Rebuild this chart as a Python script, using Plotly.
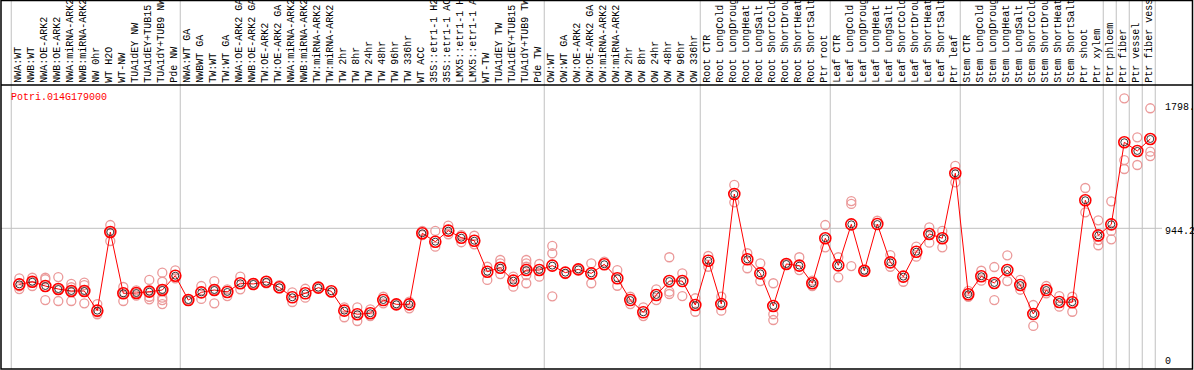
import plotly.graph_objects as go

labels = [
    "NWA:WT", "NWB:WT", "NWA:OE-ARK2", "NWB:OE-ARK2", "NWA:miRNA-ARK2", "NWB:miRNA-ARK2",
    "NW 0hr", "WT H2O", "WT-NW", "TUA1dEY NW", "TUA1dEY+TUB15", "TUA1dY+TUB9 NW", "Pde NW",
    "NWA:WT GA", "NWBWT GA", "TW:WT", "TW:WT GA", "NWA:OE-ARK2 GA", "NWB:OE-ARK2 GA",
    "TW:OE-ARK2", "TW:OE-ARK2 GA", "NWA:miRNA-ARK2", "NWB:miRNA-ARK2", "TW:miRNA-ARK2",
    "TW:miRNA-ARK2", "TW 2hr", "TW 8hr", "TW 24hr", "TW 48hr", "TW 96hr", "TW 336hr",
    "WT ACC", "35S::etr1-1 H2", "35S::etr1-1 AC", "LMX5::etr1-1 H", "LMX5::etr1-1 A",
    "WT-TW", "TUA1dEY TW", "TUA1dEY+TUB15", "TUA1dY+TUB9 TW", "Pde TW",
    "OW:WT", "OW:WT GA", "OW:OE-ARK2", "OW:OE-ARK2 GA", "OW:miRNA-ARK2", "OW:miRNA-ARK2",
    "OW 2hr", "OW 8hr", "OW 24hr", "OW 48hr", "OW 96hr", "OW 336hr",
    "Root CTR", "Root LongCold", "Root LongDroug", "Root LongHeat", "Root LongSalt",
    "Root ShortCold", "Root ShortDrou", "Root ShortHeat", "Root ShortSalt", "Ptr root",
    "Leaf CTR", "Leaf LongCold", "Leaf LongDroug", "Leaf LongHeat", "Leaf LongSalt",
    "Leaf ShortCold", "Leaf ShortDrou", "Leaf ShortHeat", "Leaf ShortSalt", "Ptr leaf",
    "Stem CTR", "Stem LongCold", "Stem LongDroug", "Stem LongHeat", "Stem LongSalt",
    "Stem ShortCold", "Stem ShortDrou", "Stem ShortHeat", "Stem ShortSalt", "Ptr shoot",
    "Ptr xylem", "Ptr phloem", "Ptr fiber", "Ptr vessel", "Ptr fiber vess",
]

means = [
    537, 556, 525, 503, 489, 489, 346, 917, 472, 474, 484, 496, 600,
    423, 479, 496, 482, 545, 540, 556, 516, 443, 472, 513, 487, 346, 320, 327, 423,
    392, 392, 908, 847, 927, 876, 854, 629, 658, 564, 641, 641,
    673, 622, 646, 617, 683, 581, 423, 334, 460, 561, 561, 387,
    709, 394, 1193, 719, 617, 380, 685, 673, 545, 872,
    675, 973, 636, 975, 697, 593, 774, 903, 872, 1344,
    465, 596, 547, 641, 532, 322, 496, 409, 407, 1148, 893,
    973, 1569, 1506, 1593,
]

replicates = [
    [581, 522, 503], [585, 556, 525], [585, 574, 423], [590, 503, 416], [540, 516, 489, 416],
    [549, 532, 489, 399], [394, 334, 320], [968, 917, 852], [518, 472, 416], [494, 474, 455],
    [569, 484, 447, 428], [622, 556, 496, 440, 423, 394], [639, 581],
    [423, 423], [525, 431], [561, 496, 399], [501, 452], [593, 501], [540, 540], [561, 545],
    [532, 508], [479, 409], [505, 440], [513], [476], [370, 298], [370, 271], [356, 307],
    [447, 399], [392], [363, 411], [925, 895], [925, 811], [963, 901], [895, 843], [890, 828],
    [665, 569], [714, 690, 612], [593, 520], [714, 690, 665, 605, 545], [685, 593],
    [816, 763, 450], [612], [646], [690, 545], [702], [641, 527], [447, 394], [370, 307],
    [501, 423], [734, 484, 467], [617, 452], [436, 338],
    [743, 665], [447, 346], [1259, 1133], [763, 654], [690, 561], [545, 320, 278], [685],
    [734, 641], [564, 525], [968, 806],
    [734, 588], [1142, 1121, 670], [641], [999], [750, 665], [556], [811, 738], [951, 840],
    [925, 806], [1397, 1278],
    [489, 447], [636, 564], [663, 423], [748, 561], [569, 498], [387, 235], [525, 472],
    [452, 375], [447, 338], [1237, 1060], [1002, 859, 821],
    [1140, 925, 864], [1888, 1440, 1375], [1605, 1404], [1816, 1501, 1469],
]

group_starts = [0, 13, 41, 53, 63, 73, 84, 85, 86, 87, 88]
gene = "Potri.014G179000"
axis_labels = ["1798.", "944.2", "0"]

W, H = 1194, 370
PX_PER_CAT = 13.0
X0_PX = 19.3
Y0_PX = 358.3
PX_PER_UNIT = 130.0 / 944.2
FONT = "Liberation Mono"

xmin = -X0_PX / PX_PER_CAT
xmax = xmin + W / PX_PER_CAT
ymin = (Y0_PX - H) / PX_PER_UNIT
ymax = Y0_PX / PX_PER_UNIT

def py(p):
    return 1 - p / H

xs = list(range(len(labels)))
rx, ry = [], []
for i, reps in enumerate(replicates):
    for v in reps:
        rx.append(i)
        ry.append(v)

fig = go.Figure()
fig.add_trace(go.Scatter(
    x=rx, y=ry, mode="markers",
    marker=dict(symbol="circle-open", size=9, color="#eb9999", line=dict(width=1.3)),
    hoverinfo="skip", showlegend=False,
))
fig.add_trace(go.Scatter(
    x=xs, y=means, mode="lines+markers",
    line=dict(color="#ff0000", width=1),
    marker=dict(symbol="circle-open", size=11, color="#ff0000", line=dict(width=1.6)),
    showlegend=False,
))
fig.add_trace(go.Scatter(
    x=xs, y=means, mode="markers",
    marker=dict(symbol="circle-open", size=7, color="#222222", line=dict(width=0.9)),
    hoverinfo="skip", showlegend=False,
))

shapes = []
for s in group_starts:
    xv = s - 0.62
    shapes.append(dict(type="line", xref="x", yref="paper", x0=xv, x1=xv, y0=py(369), y1=py(0),
                       line=dict(color="#c0c0c0", width=1), layer="below"))
shapes.append(dict(type="line", xref="paper", yref="y", x0=1 / W, x1=1162 / W, y0=944.2, y1=944.2,
                   line=dict(color="#c0c0c0", width=1), layer="below"))
shapes.append(dict(type="rect", xref="paper", yref="paper", x0=1 / W, x1=1192.5 / W, y0=py(369), y1=py(0.5),
                   line=dict(color="black", width=1.5)))
shapes.append(dict(type="line", xref="paper", yref="paper", x0=1 / W, x1=1192.5 / W, y0=py(85), y1=py(85),
                   line=dict(color="black", width=1.5)))

annotations = []
for i, lab in enumerate(labels):
    annotations.append(dict(
        x=i, xref="x", y=py(84), yref="paper", text=lab, textangle=-90,
        xanchor="center", yanchor="bottom", showarrow=False, xshift=-1.5, borderpad=0,
        font=dict(family=FONT, size=10, color="black"),
    ))
annotations.append(dict(
    x=9 / W, xref="paper", y=py(97.7), yref="paper", text=gene, xanchor="left", yanchor="middle",
    showarrow=False, font=dict(family=FONT, size=10, color="#ff0000"),
))
for lab, ypx in zip(axis_labels, [107.7, 231.7, 361.7]):
    annotations.append(dict(
        x=1163 / W, xref="paper", y=py(ypx), yref="paper", text=lab, xanchor="left", yanchor="middle",
        showarrow=False, font=dict(family=FONT, size=10, color="black"),
    ))

fig.update_layout(
    width=W, height=H, margin=dict(l=0, r=0, t=0, b=0),
    paper_bgcolor="white", plot_bgcolor="white",
    xaxis=dict(range=[xmin, xmax], visible=False, fixedrange=True),
    yaxis=dict(range=[ymin, ymax], visible=False, fixedrange=True),
    shapes=shapes, annotations=annotations,
)
fig.write_html("out.html", config={"displayModeBar": False},
               post_script="document.body.style.margin='0';document.body.style.overflow='hidden';")
